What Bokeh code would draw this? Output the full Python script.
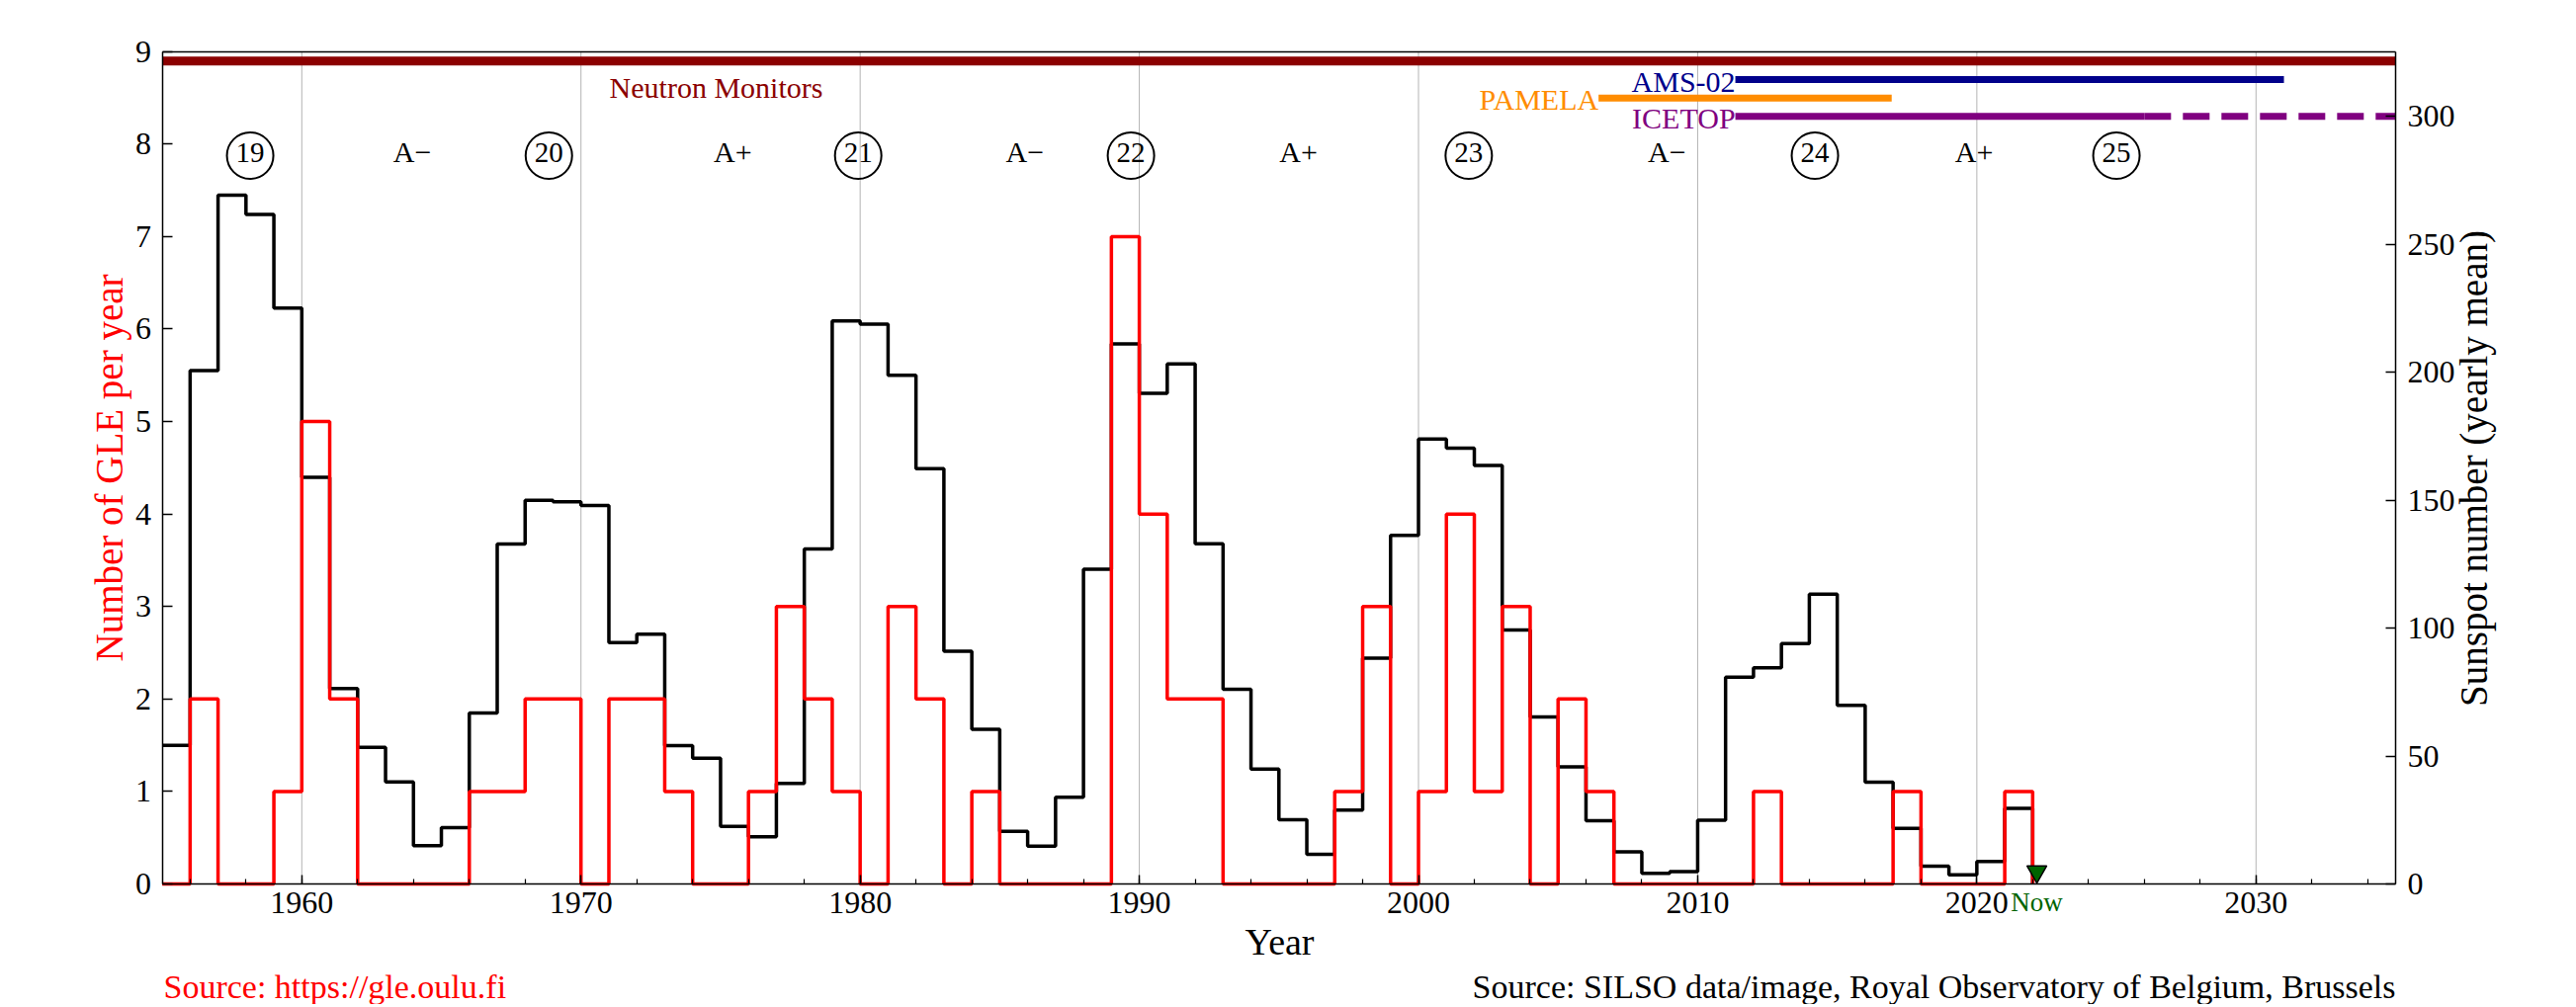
import math
from bokeh.plotting import figure
from bokeh.models import (Range1d, LinearAxis, SingleIntervalTicker, FixedTicker,
                          Label, ColumnDataSource)
from bokeh.core.properties import value
from bokeh.embed import file_html
from bokeh.resources import INLINE

# ---------------- data ----------------
ss_years = list(range(1955, 2022))
sunspots = [54.2, 200.7, 269.3, 261.7, 225.1, 159.0, 76.4, 53.4, 39.9,
            15.0, 22.0, 66.8, 132.9, 150.0, 149.4, 148.0, 94.4, 97.6, 54.1,
            49.2, 22.5, 18.4, 39.3, 131.0, 220.1, 218.9, 198.9, 162.4, 91.0,
            60.5, 20.6, 14.8, 33.9, 123.0, 211.1, 191.8, 203.3, 133.0, 76.1,
            44.9, 25.1, 11.6, 28.9, 88.3, 136.3, 173.9, 170.4, 163.6, 99.3,
            65.3, 45.8, 24.7, 12.6, 4.2, 4.8, 24.9, 80.8, 84.5, 94.0,
            113.3, 69.8, 39.8, 21.7, 7.0, 3.6, 8.8, 29.6]

gle_years = list(range(1955, 2022))
gle_counts = [0, 2, 0, 0, 1, 5, 2, 0, 0, 0,
              0, 1, 1, 2, 2, 0, 2, 2, 1, 0,
              0, 1, 3, 2, 1, 0, 3, 2, 0, 1,
              0, 0, 0, 0, 7, 4, 2, 2, 0, 0,
              0, 0, 1, 3, 0, 1, 4, 1, 3, 0,
              2, 1, 0, 0, 0, 0, 0, 1, 0, 0,
              0, 0, 1, 0, 0, 0, 1]

cycle_names = ["19", "20", "21", "22", "23", "24", "25"]
cycle_max = [1958.15, 1968.85, 1979.93, 1989.7, 2001.8, 2014.2, 2025.0]

polarity_names = ["A\u2212", "A+", "A\u2212", "A+", "A\u2212", "A+"]
polarity_x = [1963.96, 1975.44, 1985.9, 1995.7, 2008.9, 2019.9]

instruments = ["AMS-02", "PAMELA", "ICETOP"]
instr_start = [2011.35, 2006.45, 2011.35]
instr_end = [2031.0, 2016.95, 2026.0]
instr_planned_end = [None, None, 2035.0]
instr_colors = ["#00008B", "#FF8C00", "#800080"]

year_min, year_max = 1955, 2035
gle_max = 9
ss_max = 325.4
nm_start, nm_end = 1955.0, 2035.0
now_year = 2022.15

# ---------------- layout helpers (page pixels -> data) ----------------
W, H = 2600, 1016
FL, FT, FR, FB = 163.6, 51.7, 2423.0, 894.0      # axes box in page pixels
sx = (FR - FL) / (year_max - year_min)
sy = (FB - FT) / gle_max
x_start = year_min - FL / sx
x_end = x_start + W / sx
y_end = gle_max + FT / sy
y_start = y_end - H / sy
k = ss_max / gle_max


def X(px):
    return x_start + px / sx


def Y(py):
    return y_end - py / sy


def mid(py_base, fs):
    # anchor at the glyph middle, from a baseline pixel
    return Y(py_base - 0.33 * fs)


FONT = "Liberation Serif"
p = figure(width=W, height=H, x_range=Range1d(x_start, x_end),
           y_range=Range1d(y_start, y_end),
           x_axis_location=None, y_axis_location=None,
           output_backend="svg", toolbar_location=None, min_border=0)
p.extra_y_ranges = {"ss": Range1d(y_start * k, y_end * k)}
p.background_fill_color = "white"
p.border_fill_color = "white"
p.outline_line_color = None
p.xgrid.visible = False
p.ygrid.visible = False

xt = SingleIntervalTicker(interval=10, num_minor_ticks=5)
xaxis = LinearAxis(ticker=xt, fixed_location=0, bounds=(year_min, year_max))
yaxis = LinearAxis(ticker=SingleIntervalTicker(interval=1),
                   fixed_location=year_min, bounds=(0, gle_max))
raxis = LinearAxis(y_range_name="ss", ticker=SingleIntervalTicker(interval=50),
                   fixed_location=year_max, bounds=(0, ss_max))
taxis = LinearAxis(ticker=FixedTicker(ticks=[]), fixed_location=gle_max,
                   bounds=(year_min, year_max))

for ax in [xaxis, yaxis, raxis, taxis]:
    ax.axis_line_color = "black"
    ax.axis_line_width = 1.5
    ax.major_tick_line_color = "black"
    ax.major_tick_line_width = 1.5
    ax.major_tick_in = 10
    ax.major_tick_out = 0
    ax.minor_tick_line_color = None
    ax.major_label_text_font = FONT
    ax.major_label_text_font_size = "32px"
    ax.major_label_text_color = "black"
    ax.major_label_standoff = 8
xaxis.major_tick_in = 9
xaxis.minor_tick_line_color = "black"
xaxis.minor_tick_line_width = 1.2
xaxis.minor_tick_in = 5
xaxis.minor_tick_out = 0
yaxis.major_label_standoff = 7
taxis.major_tick_line_color = None

# decade grid lines (from the x ticker interval)
decades = list(range(year_min + 5, year_max, 10))
p.segment(x0=decades, y0=[0] * len(decades), x1=decades,
          y1=[gle_max] * len(decades), line_color="#b4b4b4", line_width=1)

p.add_layout(xaxis, "below")
p.add_layout(yaxis, "left")
p.add_layout(raxis, "right")
p.add_layout(taxis, "above")

# ---------------- series ----------------
ss_x = ss_years + [ss_years[-1] + 1]
ss_y = sunspots + [0]
p.step(ss_x, ss_y, mode="after", line_color="black", line_width=3.5,
       y_range_name="ss")

gle_x = gle_years + [gle_years[-1] + 1]
gle_y = gle_counts + [0]
p.step(gle_x, gle_y, mode="after", line_color="#FF0000", line_width=3.5)

# ---------------- top annotations ----------------
p.line([nm_start, nm_end], [Y(61.2), Y(61.2)], line_color="#8B0000", line_width=9)
p.text(x=[X(724)], y=[mid(98.3, 30)], text=["Neutron Monitors"],
       text_color="#8B0000", text_font=value(FONT), text_font_size=value("30px"),
       text_align="center", text_baseline="middle")

bar_rows = [80.0, 98.7, 117.3]
text_rows = [91.7, 110.0, 129.0]
for name, s, e, pe, c, br, tr in zip(instruments, instr_start, instr_end,
                                     instr_planned_end, instr_colors,
                                     bar_rows, text_rows):
    p.line([s, e], [Y(br), Y(br)], line_color=c, line_width=7)
    if pe is not None:
        p.line([e, pe], [Y(br), Y(br)], line_color=c, line_width=7,
               line_dash="27 12")
    p.text(x=[s], y=[mid(tr, 30)], text=[name], text_color=c,
           text_font=value(FONT), text_font_size=value("30px"),
           text_align="right", text_baseline="middle")

cyc_src = ColumnDataSource(dict(x=cycle_max, y=[Y(157)] * len(cycle_max),
                                ty=[mid(164, 29)] * len(cycle_max),
                                t=cycle_names))
p.scatter(x="x", y="y", source=cyc_src, marker="circle", size=47,
          fill_color=None, line_color="black", line_width=2)
p.text(x="x", y="ty", text="t", source=cyc_src, text_color="black",
       text_font=value(FONT), text_font_size=value("29px"),
       text_align="center", text_baseline="middle")

p.text(x=polarity_x, y=[mid(163, 30)] * len(polarity_x), text=polarity_names,
       text_color="black", text_font=value(FONT), text_font_size=value("30px"),
       text_align="center", text_baseline="middle")

# ---------------- now marker ----------------
p.scatter(x=[now_year], y=[Y(881.5)], marker="inverted_triangle", size=20,
          fill_color="#006400", line_color="black", line_width=1.5)
p.add_layout(Label(x=now_year, y=mid(921.7, 27), text="Now",
                   text_color="#006400", text_font=FONT, text_font_size="27px",
                   text_align="center", text_baseline="middle"))

# ---------------- axis titles & sources ----------------
p.add_layout(Label(x=X(1294), y=mid(965, 38), text="Year", text_color="black",
                   text_font=FONT, text_font_size="38px",
                   text_align="center", text_baseline="middle"))
p.add_layout(Label(x=X(123 - 0.33 * 39), y=Y(473), text="Number of GLE per year",
                   text_color="#FF0000", text_font=FONT, text_font_size="39px",
                   angle=math.pi / 2, text_align="center",
                   text_baseline="middle"))
p.add_layout(Label(x=X(2515 - 0.33 * 39), y=Y(473.5),
                   text="Sunspot number (yearly mean)",
                   text_color="black", text_font=FONT, text_font_size="39px",
                   angle=math.pi / 2, text_align="center",
                   text_baseline="middle"))
p.add_layout(Label(x=X(165), y=mid(1009, 34), text="Source: https://gle.oulu.fi",
                   text_color="#FF0000", text_font=FONT, text_font_size="34px",
                   text_align="left", text_baseline="middle"))
p.add_layout(Label(x=X(2423), y=mid(1009, 34),
                   text="Source: SILSO data/image, Royal Observatory of Belgium, Brussels",
                   text_color="black", text_font=FONT, text_font_size="34px",
                   text_align="right", text_baseline="middle"))

open("out.html", "w").write(file_html(p, INLINE))
